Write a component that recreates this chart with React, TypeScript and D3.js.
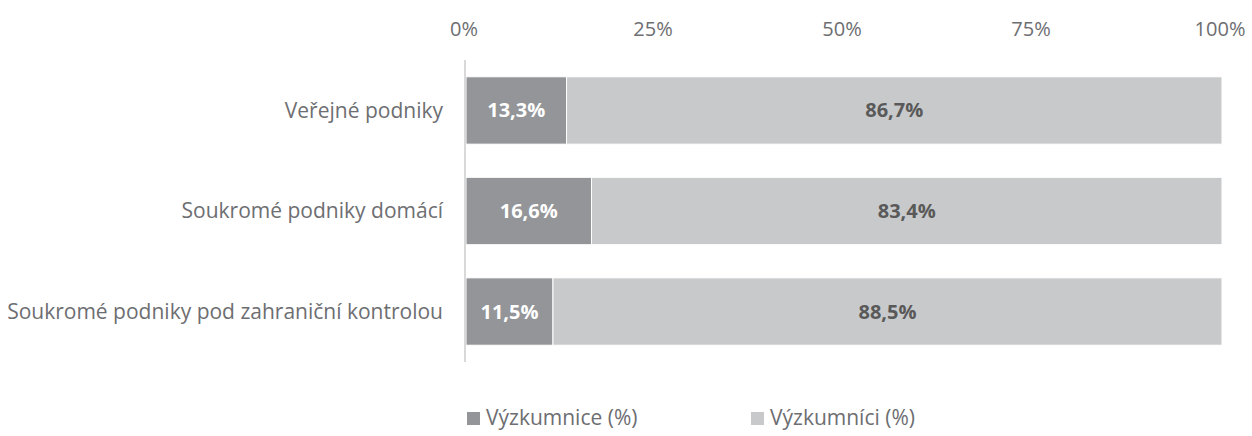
import React from 'react';
import * as d3 from 'd3';

const categories = [
  'Veřejné podniky',
  'Soukromé podniky domácí',
  'Soukromé podniky pod zahraniční kontrolou',
];
const vyzkumnice = [13.3, 16.6, 11.5];
const vyzkumnici = [86.7, 83.4, 88.5];
const seriesNames = ['Výzkumnice (%)', 'Výzkumníci (%)'];
const ticks = [0, 25, 50, 75, 100];

const W = 1252;
const H = 436;
const font = '"Open Sans", sans-serif';
const colors = ['#939598', '#c8c9cb'];
const textColor = '#6d6e71';

const fmt = (v: number) => v.toFixed(1).replace('.', ',') + '%';

export default function App() {
  const x = d3.scaleLinear().domain([0, 100]).range([466, 1222]);
  const y = d3
    .scaleBand()
    .domain(categories)
    .range([60, 362])
    .paddingInner(0.33)
    .paddingOuter(0.167);

  const rows = categories.map((c, i) => {
    const stack = [
      [0, vyzkumnice[i]],
      [vyzkumnice[i], vyzkumnice[i] + vyzkumnici[i]],
    ];
    return { c, stack, vals: [vyzkumnice[i], vyzkumnici[i]] };
  });

  return (
    <svg
      width={W}
      height={H}
      style={{ position: 'absolute', left: 0, top: 0, fontFamily: font }}
    >
      <rect width={W} height={H} fill="#fff" />
      {ticks.map(t => (
        <text
          key={t}
          x={x(t) - 2}
          y={36}
          textAnchor="middle"
          fontSize={20}
          fill={textColor}
        >
          {t}%
        </text>
      ))}
      {rows.map(r => {
        const y0 = y(r.c)!;
        const bw = y.bandwidth();
        return (
          <g key={r.c}>
            <text
              x={443}
              y={y0 + bw / 2}
              dy="0.35em"
              textAnchor="end"
              fontSize={21}
              fill={textColor}
            >
              {r.c}
            </text>
            {r.stack.map((s, j) => (
              <rect
                key={j}
                x={x(s[0])}
                y={y0}
                width={x(s[1]) - x(s[0])}
                height={bw}
                fill={colors[j]}
                stroke="#fff"
                strokeWidth={1}
              />
            ))}
            {r.stack.map((s, j) => (
              <text
                key={'l' + j}
                x={(x(s[0]) + x(s[1])) / 2}
                y={y0 + bw / 2}
                dy="0.35em"
                textAnchor="middle"
                fontSize={20}
                fontWeight="bold"
                fill={j === 0 ? '#fff' : '#595959'}
              >
                {fmt(r.vals[j])}
              </text>
            ))}
          </g>
        );
      })}
      <line x1={465} x2={465} y1={60} y2={362} stroke="#d9d9d9" strokeWidth={2} />
      {seriesNames.map((n, i) => (
        <g key={n} transform={`translate(${467 + i * 284},0)`}>
          <rect x={0} y={412} width={13} height={13} fill={colors[i]} />
          <text x={19} y={425} fontSize={21} fill={textColor}>
            {n}
          </text>
        </g>
      ))}
    </svg>
  );
}
